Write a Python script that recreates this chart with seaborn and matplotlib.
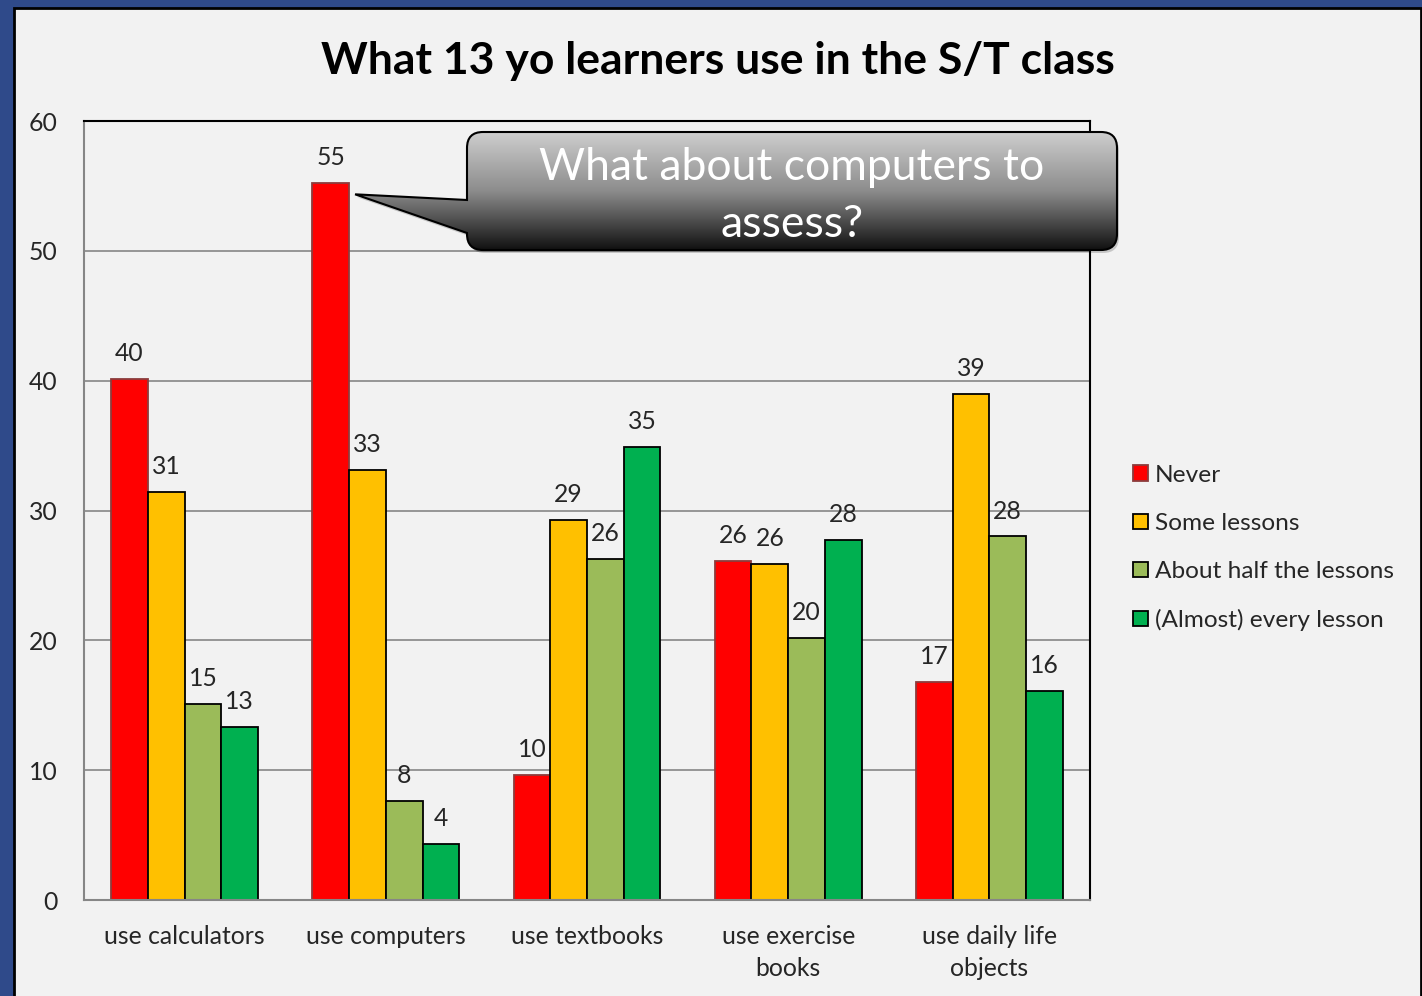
import numpy as np
import pandas as pd
import seaborn as sns
import matplotlib
matplotlib.use('Agg')
from matplotlib import pyplot as plt
from matplotlib.patches import Rectangle, PathPatch
from matplotlib.path import Path
from matplotlib.colors import LinearSegmentedColormap

categories = ['use calculators', 'use computers', 'use textbooks',
              'use exercise\nbooks', 'use daily life\nobjects']
levels = ['Never', 'Some lessons', 'About half the lessons', '(Almost) every lesson']
never = [40.1, 55.2, 9.6, 26.1, 16.8]
some = [31.4, 33.1, 29.3, 25.9, 39.0]
half = [15.1, 7.6, 26.3, 20.2, 28.0]
every = [13.3, 4.3, 34.9, 27.7, 16.1]
colors = ['#FF0000', '#FFC000', '#9BBB59', '#00B050']

title = 'What 13 yo learners use in the S/T class'
callout = ['What about computers to', 'assess?']

rows = []
for lev, vals in zip(levels, [never, some, half, every]):
    for cat, v in zip(categories, vals):
        rows.append({'item': cat, 'freq': lev, 'value': v})
df = pd.DataFrame(rows)

sns.set_theme(style='white')
plt.rcParams['font.family'] = ['Lato', 'DejaVu Sans']

W, H = 1422, 996
fs = 17.8
fig = plt.figure(figsize=(W / 100, H / 100), dpi=100)
fig.patch.set_facecolor('#2f4a8a')
# grey slide panel
fig.add_artist(Rectangle((14 / W, -0.01), (1421 - 14) / W, (996 - 8) / H + 0.01,
                         transform=fig.transFigure, facecolor='#f2f2f2',
                         edgecolor='black', linewidth=2, zorder=-5))

ax = fig.add_axes([84 / W, 1 - 900 / H, 1006 / W, 779 / H])
ax.set_facecolor('#f2f2f2')
sns.barplot(data=df, x='item', y='value', hue='freq', order=categories,
            hue_order=levels, palette=colors, saturation=1, width=0.73,
            edgecolor='black', linewidth=1.3, ax=ax)

for c in ax.containers:
    ax.bar_label(c, fmt='%.0f', padding=10, fontsize=fs)
for p in ax.containers[0].patches:
    p.set_edgecolor('#8c3c3c')

ax.set_ylim(0, 60)
ax.set_yticks(range(0, 61, 10))
ax.set_xlabel('')
ax.set_ylabel('')
ax.yaxis.grid(True, color='#868686', linewidth=1.2)
ax.set_axisbelow(True)
ax.tick_params(axis='y', length=0, pad=19, labelsize=fs)
ax.tick_params(axis='x', length=0, pad=18, labelsize=fs)
for t in ax.get_xticklabels():
    t.set_linespacing(1.45)
for s in ['left', 'bottom']:
    ax.spines[s].set_color('#868686')
    ax.spines[s].set_linewidth(1.5)
for s in ['top', 'right']:
    ax.spines[s].set_color('black')
    ax.spines[s].set_linewidth(1.5)

handles, labels = ax.get_legend_handles_labels()
for h in handles:
    h.set_edgecolor('black')
handles[0].set_edgecolor('#8c3c3c')
ax.legend(handles, labels, loc='center left', bbox_to_anchor=(1111 / W, 1 - 548 / H),
          bbox_transform=fig.transFigure, frameon=False, fontsize=fs - 0.2,
          handlelength=0.6, handleheight=0.6, handletextpad=0.3, labelspacing=1.11)

fig.text(718 / W, 1 - 61 / H, title, ha='center', va='center',
         fontsize=32, fontweight='bold', color='black')

# callout bubble in pixel coordinates
ov = fig.add_axes([0, 0, 1, 1], zorder=10)
ov.set_axis_off()
ov.patch.set_alpha(0)
ov.set_xlim(0, W)
ov.set_ylim(H, 0)

bar = ax.containers[0].patches[1]
corner = ax.transData.transform((bar.get_x() + bar.get_width(), bar.get_height()))
cx, cy = ov.transData.inverted().transform(corner)
tip = (cx + 6, cy + 11)

x0, x1, y0, y1, r = 467, 1117, 132, 250, 16
pb_top, pb_bot = 200, 233
verts = [(x0 + r, y0), (x1 - r, y0), (x1, y0), (x1, y0 + r), (x1, y1 - r), (x1, y1),
         (x1 - r, y1), (x0 + r, y1), (x0, y1), (x0, y1 - r), (x0, pb_bot), tip,
         (x0, pb_top), (x0, y0 + r), (x0, y0), (x0 + r, y0), (x0 + r, y0)]
codes = [Path.MOVETO, Path.LINETO, Path.CURVE3, Path.CURVE3, Path.LINETO, Path.CURVE3,
         Path.CURVE3, Path.LINETO, Path.CURVE3, Path.CURVE3, Path.LINETO, Path.LINETO,
         Path.LINETO, Path.LINETO, Path.CURVE3, Path.CURVE3, Path.CLOSEPOLY]
shape = Path(verts, codes)
shadow = Path(np.array(verts) + [2, 3], codes)
ov.add_patch(PathPatch(shadow, facecolor='black', edgecolor='none', alpha=0.18))
outline = PathPatch(shape, facecolor='none', edgecolor='black', linewidth=1.5, zorder=3)
ov.add_patch(outline)
cmap = LinearSegmentedColormap.from_list('g', ['#d0d0d0', '#8c8c8c', '#0c0c0c'])
grad = np.linspace(0, 1, 256).reshape(-1, 1)
im = ov.imshow(grad, cmap=cmap, aspect='auto', origin='upper',
               extent=(min(x0, tip[0]) - 2, x1 + 2, y1 + 2, y0 - 2), zorder=2)
im.set_clip_path(outline)
ov.set_xlim(0, W)
ov.set_ylim(H, 0)
ov.text(792, 167, callout[0], color='white', ha='center', va='center', fontsize=32, zorder=4)
ov.text(792, 224, callout[1], color='white', ha='center', va='center', fontsize=32, zorder=4)

fig.savefig('out.png', dpi=100, facecolor=fig.get_facecolor())
